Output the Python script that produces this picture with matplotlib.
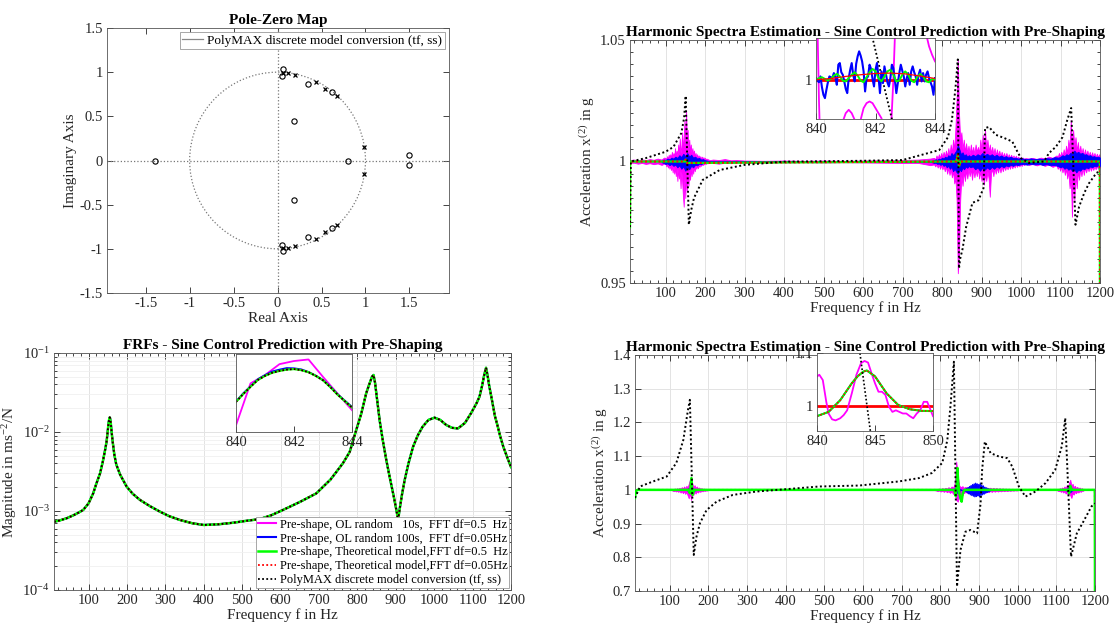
import numpy as np
import matplotlib
matplotlib.use("Agg")
import matplotlib.pyplot as plt
from matplotlib.lines import Line2D
from matplotlib.patches import Circle
from matplotlib.ticker import MultipleLocator, LogLocator, NullFormatter, FixedLocator

plt.rcParams['font.family'] = ['Liberation Serif', 'DejaVu Serif']
plt.rcParams['mathtext.fontset'] = 'custom'
plt.rcParams['mathtext.rm'] = 'Liberation Serif'
plt.rcParams['mathtext.it'] = 'Liberation Serif:italic'
plt.rcParams['axes.unicode_minus'] = False

# ---------------- data ----------------
# Pole-zero map
pz_zero_re = [-1.394, 0.803, 1.496, 1.496, 0.186, 0.186, 0.341, 0.341, 0.621, 0.621, 0.057, 0.057, 0.045, 0.045]
pz_zero_im = [0.0, 0.0, 0.06, -0.056, 0.451, -0.447, 0.869, -0.866, 0.772, -0.768, 1.035, -1.03, 0.96, -0.957]
pz_pole_re = [0.064, 0.064, 0.121, 0.121, 0.193, 0.193, 0.436, 0.436, 0.545, 0.545, 0.678, 0.678, 0.985, 0.985]
pz_pole_im = [0.99, -0.99, 0.99, -0.99, 0.972, -0.972, 0.887, -0.887, 0.808, -0.808, 0.733, -0.733, 0.154, -0.154]

# FRF magnitude (bottom-left)
frf_f = [10, 25, 43, 60, 75, 86, 100, 112, 120, 130, 137, 143, 147, 150, 152, 154, 155, 156, 158, 160, 163,
         167, 172, 182, 199, 215, 234, 260, 286, 310, 338, 370, 400, 440, 476, 510, 546, 575, 606, 650, 693,
         730, 762, 780, 797, 810, 823, 830, 838, 842, 846, 850, 858, 866, 875, 884, 895, 902, 906, 910, 916,
         923, 933, 945, 957, 970, 985, 1001, 1016, 1031, 1046, 1062, 1080, 1096, 1110, 1118, 1125, 1130,
         1135, 1139, 1143, 1150, 1158, 1165, 1172, 1180, 1190, 1200]
frf_m = [7.3e-4, 7.6e-4, 8.1e-4, 8.8e-4, 9.6e-4, 1.03e-3, 1.25e-3, 1.67e-3, 2.2e-3, 3.0e-3, 4.2e-3, 5.9e-3,
         7.6e-3, 1.04e-2, 1.29e-2, 1.48e-2, 1.53e-2, 1.5e-2, 1.28e-2, 1.0e-2, 7.4e-3, 5.2e-3, 3.9e-3, 2.9e-3,
         2.04e-3, 1.65e-3, 1.38e-3, 1.15e-3, 9.8e-4, 8.6e-4, 7.7e-4, 7.0e-4, 6.65e-4, 6.8e-4, 7.1e-4, 7.5e-4,
         7.9e-4, 8.8e-4, 1.03e-3, 1.3e-3, 1.67e-3, 2.5e-3, 4.0e-3, 5.6e-3, 1.06e-2, 1.7e-2, 3.1e-2, 3.9e-2,
         5.0e-2, 5.27e-2, 4.2e-2, 2.9e-2, 1.4e-2, 7.9e-3, 4.5e-3, 2.7e-3, 1.5e-3, 1.0e-3, 7.7e-4, 1.05e-3,
         1.6e-3, 2.45e-3, 4.0e-3, 6.5e-3, 9.0e-3, 1.17e-2, 1.42e-2, 1.52e-2, 1.42e-2, 1.23e-2, 1.13e-2,
         1.11e-2, 1.3e-2, 1.73e-2, 2.3e-2, 2.8e-2, 3.9e-2, 5.2e-2, 6.5e-2, 5.2e-2, 3.9e-2, 2.6e-2, 1.6e-2,
         1.2e-2, 8.8e-3, 6.5e-3, 4.8e-3, 3.6e-3]
# FRF inset 840-844 Hz
bl_in_mag_f = [840, 840.5, 841, 841.5, 842, 842.5, 843, 843.5, 844]
bl_in_mag = [0.0326, 0.0487, 0.0519, 0.0561, 0.0573, 0.0579, 0.0512, 0.0448, 0.0384]
bl_in_f = [840, 840.25, 840.5, 840.75, 841, 841.25, 841.5, 841.75, 842, 842.25, 842.5, 842.75, 843,
           843.25, 843.5, 843.75, 844]
bl_in_thr = [0.0416, 0.0446, 0.0474, 0.0500, 0.0516, 0.0528, 0.0535, 0.0540, 0.0542, 0.0538, 0.0530,
             0.0516, 0.0499, 0.0473, 0.0444, 0.0419, 0.0394]
bl_in_blu = [0.0418, 0.0449, 0.0476, 0.0503, 0.0519, 0.0533, 0.0540, 0.0546, 0.0545, 0.0541, 0.0531,
             0.0517, 0.0500, 0.0475, 0.0446, 0.0421, 0.0397]

# Top-right: harmonic spectra (scale 0.95-1.05)
tr_blk_f = [10, 12, 50, 100, 120, 140, 147, 151, 159, 165, 172, 194, 237, 300, 400, 500, 600, 700, 793, 815,
            825, 834, 838, 840, 843, 846, 852, 861, 877, 892, 905, 909, 919, 936, 957, 978, 991, 1000, 1020,
            1058, 1071, 1088, 1105, 1117, 1127, 1138, 1147, 1160, 1172, 1191, 1200]
tr_blk = [0.973, 1.0, 1.0014, 1.004, 1.006, 1.0117, 1.018, 1.027, 0.974, 0.980, 0.985, 0.9924, 0.9965,
          0.9986, 0.99995, 1.0001, 1.0003, 1.0006, 1.0047, 1.010, 1.017, 1.030, 1.038, 1.042, 0.956, 0.960,
          0.964, 0.973, 0.983, 0.984, 0.989, 1.0138, 1.0142, 1.011, 1.0097, 1.0082, 1.004, 1.0014, 0.9994,
          1.0, 1.0035, 1.006, 1.010, 1.017, 1.022, 0.974, 0.9814, 0.987, 0.991, 0.9953, 0.996]
tr_thr_f = [10, 10.5, 148, 151, 154, 836, 840, 843, 847, 1199.5, 1200]
tr_thr = [0.973, 1.0, 1.0, 1.0008, 0.9994, 1.0, 1.003, 0.998, 1.0, 1.0, 0.90]

# magenta (OL random 10 s) envelope, deviation from 1 in units of 1e-3
tr_mag_f = ([10, 20, 30, 40, 50, 60, 70, 80, 90, 96] + list(range(100, 211, 2)) +
            [220, 235, 250, 265, 280, 300, 350, 400, 450, 500, 550, 600, 650, 700, 740, 770] +
            list(range(780, 1012, 3)) + [1020, 1030, 1040, 1050, 1060, 1070, 1080, 1090] +
            list(range(1093, 1199, 3)) + [1200])
tr_mag_hi = ([0.6, 0.8, 0.5, 0.9, 0.6, 1.0, 0.7, 1.2, 0.8, 1.6] +
             [1.5, 0.8, 2.2, 1.0, 2.8, 1.2, 3.0, 1.5, 4.0, 1.8, 3.5, 2.0, 5.5, 2.2, 4.5, 2.5, 7.0, 3.0, 9.5,
              3.5, 6.0, 12.0, 4.5, 10.0, 17.0, 6.0, 21.0, 8.0, 13.0, 5.0, 9.0, 4.0, 7.0, 3.0, 5.5, 2.5, 4.5,
              2.0, 3.5, 1.5, 3.0, 1.5, 2.5, 1.2, 2.2, 1.0, 2.0, 0.8, 1.8, 0.8, 1.5, 0.7, 1.2, 0.6, 1.0, 0.5] +
             [0.8, 0.6, 1.0, 0.5, 0.6, 0.4, 0.3, 0.4, 0.3, 0.4, 0.3, 0.4, 0.5, 0.6, 0.8, 1.2] +
             [1.5, 0.8, 2.5, 1.2, 3.0, 1.5, 3.5, 1.8, 4.0, 2.0, 4.5, 2.2, 5.5, 2.5, 7.0, 3.5, 9.0, 5.0, 14.0,
              26.0, 42.0, 20.0, 9.0, 12.0, 5.0, 9.0, 4.0, 7.5, 3.5, 6.5, 3.0, 7.0, 3.5, 6.0, 3.0, 7.0, 4.0,
              6.0, 3.5, 9.0, 4.5, 11.0, 6.0, 13.0, 5.0, 9.0, 4.0, 7.0, 3.5, 6.0, 3.0, 5.5, 2.5, 5.0, 2.5, 4.5,
              2.0, 4.0, 2.0, 3.5, 1.8, 3.5, 1.6, 3.0, 1.5, 2.8, 1.4, 2.5, 1.2, 2.4, 1.2, 2.0, 1.0, 1.8, 1.0,
              1.6, 0.9, 1.4] +
             [1.2, 1.5, 1.0, 1.6, 1.2, 2.0, 1.5, 2.5] +
             [1.8, 3.5, 2.0, 4.0, 2.2, 5.0, 2.5, 6.5, 3.5, 9.0, 5.0, 17.0, 7.0, 13.0, 6.0, 10.0, 4.5, 8.0,
              3.5, 6.5, 3.0, 5.5, 2.5, 5.0, 2.5, 4.5, 2.2, 4.0, 2.0, 3.8, 2.0, 3.5, 1.8, 3.2, 1.8, 3.0] + [1.5])
tr_mag_lo = ([0.6, 0.5, 0.9, 0.6, 1.0, 0.7, 1.1, 0.8, 1.4, 0.9] +
             [1.0, 2.0, 1.0, 2.5, 1.2, 3.0, 1.5, 3.5, 1.8, 4.5, 2.0, 5.0, 2.5, 6.0, 3.0, 8.0, 3.0, 7.0, 3.5,
              11.0, 4.0, 8.0, 14.0, 18.6, 6.0, 15.0, 5.0, 12.0, 4.5, 10.0, 4.0, 7.5, 3.0, 6.0, 2.5, 5.0, 2.0,
              4.0, 1.8, 3.0, 1.5, 2.8, 1.2, 2.2, 1.0, 1.8, 0.8, 1.5, 0.8, 1.2, 0.6, 1.0, 0.5, 0.8, 0.5, 0.6] +
             [0.6, 0.9, 0.5, 0.7, 0.4, 0.5, 0.3, 0.4, 0.3, 0.4, 0.3, 0.4, 0.5, 0.6, 0.6, 1.5] +
             [1.2, 2.0, 1.0, 2.5, 1.2, 3.0, 1.5, 3.2, 1.8, 4.0, 2.0, 5.0, 2.5, 5.5, 3.0, 6.5, 4.0, 9.0, 7.0,
              16.0, 46.0, 38.0, 16.0, 6.0, 10.0, 4.0, 8.0, 3.5, 7.0, 3.0, 6.0, 3.0, 7.5, 3.0, 6.5, 3.5, 6.0,
              3.0, 7.0, 4.0, 8.0, 5.0, 9.5, 5.0, 8.0, 4.0, 7.0, 14.5, 5.0, 3.0, 6.0, 2.5, 5.0, 2.5, 4.5, 2.0,
              4.5, 2.0, 4.0, 1.8, 3.5, 1.8, 3.2, 1.5, 3.0, 1.4, 2.8, 1.2, 2.5, 1.2, 2.2, 1.0, 2.0, 1.0, 1.8,
              0.9, 1.5, 0.8] +
             [1.4, 1.0, 1.6, 1.0, 1.8, 1.2, 2.2, 1.5] +
             [3.0, 1.8, 3.8, 2.0, 4.5, 2.5, 5.5, 3.0, 7.0, 4.0, 11.0, 6.0, 22.7, 6.0, 16.0, 5.0, 11.0, 4.0,
              7.5, 3.0, 6.0, 2.5, 5.5, 2.5, 4.5, 2.2, 4.0, 2.0, 3.8, 2.0, 3.5, 1.8, 3.2, 1.8, 3.0, 1.5] + [2.5])

# blue (OL random 100 s) envelope, 1e-3 units
tr_blu_f = list(range(90, 211, 5)) + [770] + list(range(780, 869, 4)) + list(range(872, 999, 6)) + \
    list(range(1005, 1096, 10)) + list(range(1100, 1201, 5))
tr_blu_hi = ([0.3, 0.8, 0.6, 1.2, 0.9, 1.6, 1.2, 2.0, 1.5, 2.6, 1.8, 3.2, 2.2, 3.5, 2.0, 2.8, 1.6, 2.0, 1.2,
              1.5, 0.8, 1.0, 0.5, 0.4, 0.1] + [0.1] +
             [0.5, 0.9, 0.7, 1.2, 0.9, 1.6, 1.2, 2.0, 1.5, 2.6, 2.0, 3.5, 2.6, 3.5, 4.5, 6.8, 5.0, 3.0, 3.8,
              2.4, 3.0, 2.0, 2.6] +
             [2.0, 2.8, 2.2, 3.0, 2.4, 3.5, 2.6, 3.2, 2.4, 3.0, 2.2, 2.8, 2.0, 2.5, 1.8, 2.2, 1.6, 2.0, 1.4,
              1.6, 1.2, 1.4] +
             [1.2, 1.0, 1.3, 1.0, 1.2, 1.0, 1.4, 1.2, 1.8, 1.6] +
             [2.0, 2.6, 2.2, 3.0, 2.6, 3.6, 3.0, 4.5, 3.5, 4.0, 3.2, 3.6, 2.8, 3.0, 2.4, 2.6, 2.0, 2.2, 1.8,
              2.0, 1.6])
tr_blu_lo = ([0.3, 0.6, 1.0, 0.8, 1.5, 1.0, 1.8, 1.3, 2.4, 1.6, 3.0, 2.0, 3.8, 2.2, 3.2, 1.8, 2.4, 1.3, 1.6,
              0.9, 1.1, 0.6, 0.5, 0.3, 0.1] + [0.1] +
             [0.6, 0.5, 1.0, 0.8, 1.4, 1.0, 1.8, 1.4, 2.4, 1.8, 3.0, 2.2, 4.0, 3.0, 4.2, 5.0, 3.2, 4.0, 2.5,
              3.2, 2.0, 2.6, 1.8] +
             [2.4, 2.0, 3.2, 2.4, 3.8, 2.6, 3.4, 2.4, 3.2, 2.2, 3.0, 2.0, 2.6, 1.8, 2.4, 1.6, 2.0, 1.4, 1.8,
              1.2, 1.5, 1.2] +
             [1.0, 1.3, 1.0, 1.2, 1.0, 1.4, 1.1, 1.6, 1.4, 2.0] +
             [2.4, 2.0, 3.0, 2.4, 3.4, 2.8, 4.0, 3.2, 4.5, 3.4, 3.8, 2.8, 3.2, 2.4, 2.8, 2.0, 2.4, 1.8, 2.0,
              1.6, 1.8])

# Top-right inset (840-844 Hz), deviations in 1e-3
tr_in_blu_dev = [0.4, -0.2, -0.6, 0.8, -1.8, -3.6, -4.4, -2.4, -0.6, 0.8, 0.6, 0.4, 1.6, 0.6, -1.2, 3.6,
                 4.0, 1.8, 1.2, -0.4, -2.2, -3.2, 0.4, 2.4, 4.0, 1.2, -0.4, 3.8, 5.6, 6.8, 5.8, 4.4, 2.0,
                 -2.8, 0.4, 0.8, 3.6, 2.6, 0.2, -1.6, 2.4, 4.0, 0.8, -3.2, 2.0, -0.8, 3.2, 1.4, -0.6, -1.6,
                 0.4, 3.6, 2.8, 0.0, -3.2, -0.8, 1.6, 3.6, 2.2, 0.8, -1.6, 0.4, 1.6, -1.2, 2.0, 3.2, 1.8,
                 0.8, -1.2, 1.2, 2.4, -0.4, 1.6, -0.4, 1.2, 2.0, 0.4, -0.6, -1.6, -3.6, 0.4]
tr_in_grn_dev = [0.0, 0.4, 0.6, 0.2, -0.2, 0.2, 1.0, 1.4, 0.8, -0.2, -0.4, 0.4, 1.2, 1.8, 1.0, -0.2, -0.6,
                 0.6, 1.8, 2.6, 2.0, 0.4, -0.4, 0.8, 2.0, 2.4, 1.2, -0.4, -0.2, 1.2, 2.0, 1.2, -0.2, -0.6,
                 0.6, 1.4, 0.8, -0.4, -0.6, 0.2, 0.0]
tr_in_red_f = [840.0, 840.5, 841.0, 841.5, 842.0, 842.5, 843.0, 843.5, 844.0]
tr_in_red_dev = [0.0, 0.3, 0.8, 1.2, 1.5, 1.6, 1.4, 0.9, 0.3]
tr_in_mag_f = [840.0, 840.1, 840.2, 840.3, 840.4, 840.5, 840.6, 840.7, 840.8, 840.9, 841.0, 841.1, 841.2,
               841.3, 841.4, 841.5, 841.6, 841.7, 841.8, 841.9, 842.0, 842.1, 842.2, 842.3, 842.4, 842.5,
               842.6, 842.7, 842.8, 842.9, 843.0, 843.1, 843.2, 843.3, 843.4, 843.5, 843.6, 843.7, 843.8,
               843.9, 844.0]
tr_in_mag_dev = [30, -5, -30, -40, -40, -35, -28, -20, -14, -10, -8.0, -7.2, -8.0, -9.6, -10.5, -9.6, -6.8,
                 -5.6, -5.2, -5.6, -6.8, -8.0, -9.2, -12, -20, -15, 0, 20, 35, 45, 45, 40, 35, 30, 25, 20,
                 15, 11, 8, 6, 4.4]
tr_in_blk_f = [841.6, 841.9, 842.55, 842.9]
tr_in_blk_dev = [19.0, 10.0, -9.4, -20.0]

# Bottom-right: harmonic spectra (scale 0.7-1.4)
br_blk_f = [10, 23, 56, 92, 117, 135, 147, 152, 162, 169, 178, 195, 221, 263, 324, 401, 487, 590, 693, 745,
            778, 805, 818, 826, 835, 843, 852, 865, 878, 895, 904, 908, 915, 930, 951, 973, 986, 1003, 1020,
            1046, 1072, 1097, 1114, 1123, 1138, 1153, 1170, 1191, 1200]
br_blk = [0.976, 1.010, 1.0246, 1.0395, 1.080, 1.148, 1.237, 1.267, 0.807, 0.861, 0.901, 0.940, 0.965, 0.985,
          0.995, 1.002, 1.010, 1.0128, 1.025, 1.035, 1.05, 1.08, 1.148, 1.247, 1.38, 0.713, 0.822, 0.876,
          0.881, 0.871, 0.96, 1.059, 1.143, 1.109, 1.099, 1.094, 1.069, 1.010, 0.980, 0.995, 1.020, 1.059,
          1.129, 1.213, 0.802, 0.871, 0.906, 0.951, 0.96]
br_grn_f = [10, 12, 16, 148, 152, 156, 159, 163, 836, 838, 840, 842, 844, 846, 849, 852, 855, 858, 862,
            1130, 1133, 1136, 1140, 1199.5, 1200]
br_grn = [0.976, 0.995, 1.0, 1.0, 0.99, 1.035, 0.985, 1.0, 1.0, 0.99, 0.981, 1.011, 1.065, 1.024, 0.99,
          0.975, 0.965, 0.99, 1.0, 1.0, 0.99, 1.012, 1.0, 1.0, 0.70]
br_mag_f = list(range(104, 201, 3)) + list(range(785, 1006, 4)) + list(range(1100, 1173, 3))
br_mag_hi = ([1, 3, 1.5, 4, 2, 5, 2.5, 6, 3, 8, 4, 10, 5, 12, 7, 18, 30, 12, 20, 8, 14, 6, 10, 4, 7, 3, 5, 2.5,
              4, 2, 3, 1.5, 0] +
             [1, 3, 2, 4, 2.5, 5, 3, 6, 3.5, 8, 4, 10, 6, 20, 84, 40, 12, 8, 11, 6, 9, 5, 8, 4.5, 9, 5, 8, 4.5,
              10, 6, 11, 5, 8, 4, 7, 3.5, 6.5, 3, 6, 3, 5.5, 2.5, 5, 2.5, 4.5, 2, 4, 2, 3.5, 1.8, 3, 1.5, 2.5,
              1.2, 1.5, 0] +
             [0, 3, 2, 5, 3, 7, 4, 10, 5, 14, 8, 22, 30, 12, 18, 8, 12, 5, 9, 4, 7, 3, 5, 2, 0])
br_mag_lo = ([1, 2, 4, 2, 5, 2.5, 6, 3, 8, 3.5, 10, 4.5, 12, 6, 16, 25, 10, 30, 8, 15, 6, 11, 4, 8, 3, 6, 2.5,
              4.5, 2, 3, 1.5, 2, 0] +
             [1, 2, 4, 2, 5, 2.5, 6, 3, 7, 4, 9, 5, 12, 9, 30, 35, 18, 12, 6, 10, 5, 9, 4.5, 8, 5, 9, 4, 8, 5,
              10, 5, 9, 4, 8, 3.5, 7, 3, 6, 3, 5.5, 2.5, 5, 2.5, 4.5, 2, 4, 2, 3.5, 1.8, 3, 1.5, 2.5, 1.2, 2,
              1, 0] +
             [0, 2, 4, 2.5, 6, 3, 8, 4, 11, 6, 15, 9, 16, 24, 10, 14, 6, 10, 4, 8, 3, 6, 2.5, 3, 0])
br_blu_f = ([140, 146, 150, 154, 158, 164, 170] + [832, 836, 840, 843, 846, 850, 856] +
            list(range(862, 931, 2)) + [1122, 1128, 1132, 1136, 1140, 1146])
br_blu_hi = ([0, 3, 6, 4, 5, 2, 0] + [0, 4, 7, 10, 6, 3, 0] +
             [0, 3, 6, 4, 9, 6, 12, 8, 15, 10, 18, 12, 20, 14, 22, 16, 20, 14, 18, 12, 22, 10, 16, 8, 14, 6,
              10, 5, 8, 4, 6, 3, 4, 2, 0] + [0, 4, 7, 5, 3, 0])
br_blu_lo = ([0, 2, 5, 6, 3, 2, 0] + [0, 3, 8, 9, 7, 2, 0] +
             [0, 4, 3, 8, 5, 11, 7, 14, 9, 16, 11, 18, 13, 20, 15, 19, 14, 17, 12, 20, 10, 16, 9, 14, 7, 12,
              5, 9, 4, 7, 3, 5, 2, 2, 0] + [0, 3, 6, 7, 2, 0])

# Bottom-right inset (840-850 Hz)
br_in_f = [840, 841, 842, 843, 843.5, 844, 844.3, 845, 846, 847, 848, 849, 850]
br_in_thr = [0.981, 0.989, 1.011, 1.043, 1.056, 1.065, 1.067, 1.056, 1.024, 1.002, 0.994, 0.991, 0.9905]
br_in_mag_f = [840, 840.2, 840.5, 840.8, 841, 841.3, 841.6, 842, 842.3, 842.6, 843, 843.4, 843.8, 844.1,
               844.4, 844.7, 845, 845.3, 845.6, 845.9, 846.2, 846.5, 846.8, 847.1, 847.4, 847.7, 848, 848.3,
               848.6, 848.9, 849.2, 849.5, 849.8, 850]
br_in_mag = [1.0557, 1.059, 1.049, 1.008, 0.986, 0.975, 0.973, 0.977, 0.983, 0.992, 1.024, 1.059, 1.081,
             1.085, 1.082, 1.062, 1.043, 1.027, 1.027, 1.021, 0.999, 0.989, 0.992, 0.989, 0.986, 0.986,
             0.981, 0.977, 0.986, 0.992, 1.008, 1.008, 0.992, 0.981]
br_in_blk_f = [843.5, 843.7, 844.6, 844.8]
br_in_blk = [1.15, 1.10, 0.953, 0.92]

legend_labels = ["Pre-shape, OL random   10s,  FFT df=0.5  Hz",
                 "Pre-shape, OL random 100s,  FFT df=0.05Hz",
                 "Pre-shape, Theoretical model,FFT df=0.5  Hz",
                 "Pre-shape, Theoretical model,FFT df=0.05Hz",
                 "PolyMAX discrete model conversion (tf, ss)"]
title_hs = "Harmonic Spectra Estimation - Sine Control Prediction with Pre-Shaping"

# ---------------- styling ----------------
MAG = '#ff00ff'
BLU = '#0000ff'
GRN = '#00ff00'
RED = '#ff0000'
TXT = '#262626'
DOT = (0, (1, 1.3))
TICK = 10.5
LAB = 11
TIT = 11

W, H = 1116, 628
fig = plt.figure(figsize=(W / 100, H / 100), dpi=100)


def ax_px(l, t, r, b):
    return fig.add_axes([l / W, 1 - b / H, (r - l) / W, (b - t) / H])


def style(ax, size=TICK):
    ax.tick_params(which='both', direction='in', top=True, right=True, labelsize=size, colors=TXT,
                   width=0.6, pad=3)
    ax.tick_params(which='major', length=4)
    ax.tick_params(which='minor', length=2)
    for s in ax.spines.values():
        s.set_color('#555555')
        s.set_linewidth(0.6)


def freq_axis(ax):
    ax.set_xlim(10, 1200)
    ax.xaxis.set_major_locator(FixedLocator([100, 200, 300, 400, 500, 600, 700, 800, 900, 1000, 1100, 1200]))
    ax.xaxis.set_minor_locator(MultipleLocator(20))
    ax.set_xlabel("Frequency f in Hz", fontsize=LAB, color=TXT, labelpad=1)
    ax.grid(True, which='major', color='#e3e3e3', lw=0.7)
    ax.set_axisbelow(True)


def env(a, sign):
    return 1 + sign * np.asarray(a, dtype=float) * 1e-3


# ---------------- Pole-zero map ----------------
ax = ax_px(107, 28, 449, 293)
style(ax)
ax.add_patch(Circle((0, 0), 1, fill=False, ls=':', ec='#777777', lw=0.9))
ax.axhline(0, color='#777777', ls=':', lw=0.9)
ax.axvline(0, color='#777777', ls=':', lw=0.9)
ax.plot(pz_zero_re, pz_zero_im, 'o', ms=3.8, mfc='none', mec='black', mew=0.8)
ax.plot(pz_pole_re, pz_pole_im, 'x', ms=3.4, color='black', mew=0.9)
ax.set_xlim(-1.94, 1.95)
ax.set_ylim(-1.5, 1.5)
ticks = [-1.5, -1, -0.5, 0, 0.5, 1, 1.5]
tlabels = ['-1.5', '-1', '-0.5', '0', '0.5', '1', '1.5']
ax.set_xticks(ticks)
ax.set_xticklabels(tlabels)
ax.set_yticks(ticks)
ax.set_yticklabels(tlabels)
ax.set_xlabel("Real Axis", fontsize=LAB, color=TXT, labelpad=1)
ax.set_ylabel("Imaginary Axis", fontsize=LAB, color=TXT, labelpad=2)
ax.set_title("Pole-Zero Map", fontsize=TIT, fontweight='bold', pad=3)
lg = ax.legend([Line2D([], [], color='#888888', lw=0.9)], [legend_labels[4]], loc='upper right',
               fontsize=9.5, fancybox=False, edgecolor='#999999', framealpha=1, handlelength=1.6,
               borderpad=0.2, borderaxespad=0.3, handletextpad=0.3)
lg.get_frame().set_linewidth(0.6)

# ---------------- Top-right ----------------
ax = ax_px(630, 40, 1100, 283)
style(ax)
freq_axis(ax)
ax.fill_between(tr_mag_f, env(tr_mag_hi, 1), env(tr_mag_lo, -1), color=MAG, lw=0.6, zorder=2)
ax.fill_between(tr_blu_f, env(tr_blu_hi, 1), env(tr_blu_lo, -1), color=BLU, lw=0.6, zorder=3)
ax.plot(tr_thr_f, tr_thr, color=GRN, lw=1.6, zorder=4)
ax.plot(tr_thr_f, tr_thr, color=RED, lw=1.4, ls=DOT, zorder=5)
ax.plot(tr_blk_f, tr_blk, color='black', lw=1.4, ls=DOT, zorder=6)
ax.set_ylim(0.95, 1.05)
ax.set_yticks([0.95, 1.0, 1.05])
ax.set_yticklabels(['0.95', '1', '1.05'])
ax.yaxis.set_minor_locator(MultipleLocator(0.005))
ax.set_ylabel("Acceleration x$^{(2)}$ in g", fontsize=LAB, color=TXT, labelpad=2)
ax.set_title(title_hs, fontsize=TIT, fontweight='bold', pad=3)

ai = ax_px(816, 38, 935, 119)
style(ai)
ai.set_zorder(10)
f_in = np.arange(840, 844.001, 0.05)
f_in_g = np.arange(840, 844.001, 0.1)
ai.plot(tr_in_mag_f, env(tr_in_mag_dev, 1), color=MAG, lw=1.3)
ai.plot(tr_in_blk_f, env(tr_in_blk_dev, 1), color='black', lw=1.3, ls=DOT)
ai.plot([840, 844], [1, 1], color=RED, lw=2.0)
ai.plot(f_in, env(tr_in_blu_dev, 1), color=BLU, lw=1.5)
ai.plot(f_in_g, env(tr_in_grn_dev, 1), color=GRN, lw=1.4)
ai.plot(tr_in_red_f, env(tr_in_red_dev, 1), color=RED, lw=0.9)
ai.set_xlim(840, 844)
ai.set_ylim(0.9906, 1.010)
ai.set_xticks([840, 842, 844])
ai.set_yticks([1.0])
ai.set_yticklabels(['1'])
ai.tick_params(top=False, right=False)

# ---------------- Bottom-left ----------------
ax = ax_px(54, 353, 511, 590)
style(ax)
freq_axis(ax)
ax.set_yscale('log')
ax.set_ylim(1e-4, 1e-1)
ax.yaxis.set_major_locator(LogLocator(base=10, numticks=10))
ax.yaxis.set_minor_locator(LogLocator(base=10, subs=np.arange(2, 10), numticks=10))
ax.yaxis.set_minor_formatter(NullFormatter())
ax.grid(True, which='minor', axis='y', color='#f0f0f0', lw=0.6)
h_mag, = ax.plot(frf_f, frf_m, color=MAG, lw=1.5)
h_blu, = ax.plot(frf_f, frf_m, color=BLU, lw=1.5)
h_grn, = ax.plot(frf_f, frf_m, color=GRN, lw=1.8)
h_red, = ax.plot(frf_f, frf_m, color=RED, lw=1.3, ls=DOT)
h_blk, = ax.plot(frf_f, frf_m, color='black', lw=1.3, ls=DOT)
ax.set_ylabel("Magnitude in ms$^{-2}$/N", fontsize=LAB, color=TXT, labelpad=2)
ax.set_title("FRFs - Sine Control Prediction with Pre-Shaping", fontsize=TIT, fontweight='bold', pad=3)
lg = ax.legend([h_mag, h_blu, h_grn, h_red, h_blk], legend_labels, loc='lower right', fontsize=9,
               fancybox=False, edgecolor='#999999', framealpha=1, handlelength=1.5, borderpad=0.15,
               labelspacing=0.15, borderaxespad=0.15, handletextpad=0.25)
lg.get_frame().set_linewidth(0.6)

ai = ax_px(236, 354, 352, 432)
style(ai)
ai.set_zorder(10)
ai.plot(bl_in_mag_f, bl_in_mag, color=MAG, lw=1.3)
ai.plot(bl_in_f, bl_in_blu, color=BLU, lw=1.3)
ai.plot(bl_in_f, bl_in_thr, color=GRN, lw=1.6)
ai.plot(bl_in_f, bl_in_thr, color=RED, lw=1.2, ls=DOT)
ai.plot(bl_in_f, bl_in_thr, color='black', lw=1.2, ls=DOT)
ai.set_xlim(840, 844)
ai.set_ylim(0.030, 0.060)
ai.set_xticks([840, 842, 844])
ai.set_yticks([])
ai.tick_params(top=False, right=False)

# ---------------- Bottom-right ----------------
ax = ax_px(635, 355, 1095, 591)
style(ax)
freq_axis(ax)
ax.fill_between(br_mag_f, env(br_mag_hi, 1), env(br_mag_lo, -1), color=MAG, lw=0.6, zorder=2)
ax.fill_between(br_blu_f, env(br_blu_hi, 1), env(br_blu_lo, -1), color=BLU, lw=0.6, zorder=3)
ax.plot(br_grn_f, br_grn, color=RED, lw=1.3, ls=DOT, zorder=4)
ax.plot(br_grn_f, br_grn, color=GRN, lw=1.8, zorder=5)
ax.plot(br_blk_f, br_blk, color='black', lw=1.4, ls=DOT, zorder=6)
ax.set_ylim(0.7, 1.4)
yt = [0.7, 0.8, 0.9, 1.0, 1.1, 1.2, 1.3, 1.4]
ax.set_yticks(yt)
ax.set_yticklabels(['0.7', '0.8', '0.9', '1', '1.1', '1.2', '1.3', '1.4'])
ax.set_ylabel("Acceleration x$^{(2)}$ in g", fontsize=LAB, color=TXT, labelpad=2)
ax.set_title(title_hs, fontsize=TIT, fontweight='bold', pad=3)

ai = ax_px(817, 353, 933, 431)
style(ai)
ai.set_zorder(10)
ai.plot([840, 850], [1, 1], color=RED, lw=2.0)
ai.plot(br_in_mag_f, br_in_mag, color=MAG, lw=1.3)
ai.plot(br_in_f, br_in_thr, color=BLU, lw=1.2)
ai.plot(br_in_f, br_in_thr, color=GRN, lw=1.5)
ai.plot(br_in_f, br_in_thr, color=RED, lw=1.1, ls=DOT)
ai.plot(br_in_blk_f, br_in_blk, color='black', lw=1.2, ls=DOT)
ai.set_xlim(840, 850)
ai.set_ylim(0.953, 1.1)
ai.set_xticks([840, 845, 850])
ai.set_yticks([1.0, 1.1])
ai.set_yticklabels(['1', '1.1'])
ai.tick_params(top=False, right=False)

fig.savefig("out.png", dpi=100)
